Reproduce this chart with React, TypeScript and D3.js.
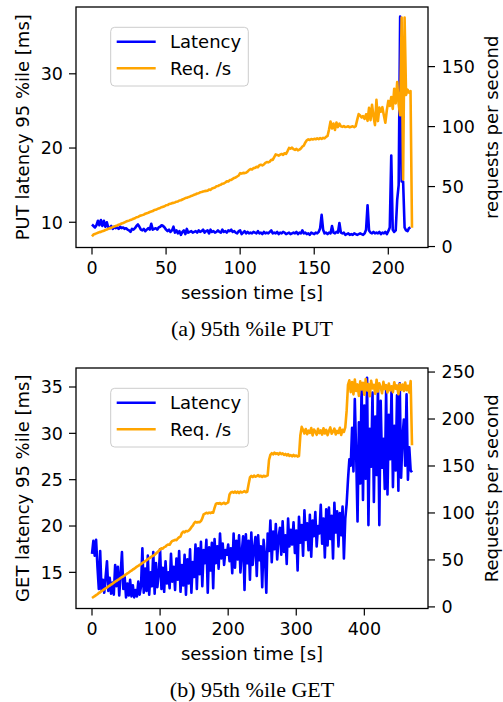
import React from 'react'
import * as d3 from 'd3'

// PUT run, one sample per second
const PUT_STEP = 1
const putLatency = [
  9.7, 9.5, 9.3, 9.6, 10.2, 9.6, 10.3, 9.5, 10.2, 9.4,
  10.0, 9.3, 9.2, 9.5, 9.1, 9.4, 9.2, 9.3, 9.1, 9.4,
  9.2, 9.3, 9.1, 9.2, 9.0, 8.9, 8.7, 9.1, 9.0, 9.2,
  9.5, 9.7, 9.4, 9.0, 8.9, 9.1, 8.8, 9.0, 9.2, 9.0,
  9.8, 9.0, 9.1, 9.2, 9.0, 9.3, 9.4, 9.6, 9.5, 9.3,
  9.0, 8.8, 9.0, 8.7, 8.9, 9.4, 8.6, 8.9, 8.5, 8.8,
  8.3, 8.7, 8.9, 8.4, 9.1, 8.6, 8.7, 8.8, 8.6, 8.7,
  8.8, 8.6, 8.9, 8.7, 8.8, 9.0, 8.6, 8.8, 8.9, 8.5,
  9.0, 8.7, 8.8, 8.6, 8.7, 8.9, 8.7, 8.6, 9.0, 8.7,
  8.8, 8.6, 8.9, 8.8, 9.0, 8.7, 8.8, 8.6, 8.5, 8.8,
  8.9, 8.4, 8.6, 8.8, 8.5, 8.7, 8.5, 8.6, 8.5, 8.7,
  8.6, 8.5, 8.8, 8.5, 8.6, 8.4, 8.7, 8.5, 8.6, 8.5,
  8.7, 8.9, 8.5, 8.6, 8.5, 8.7, 8.4, 8.6, 8.5, 8.7,
  8.6, 8.4, 8.5, 8.6, 8.4, 8.5, 8.6, 8.5, 8.7, 8.4,
  8.6, 8.5, 8.9, 8.5, 8.6, 8.4, 8.5, 8.3, 8.6, 8.5,
  8.4, 8.6, 8.5, 8.7, 9.2, 11.0, 9.0, 8.5, 8.6, 8.4,
  8.6, 8.5, 9.5, 8.6, 8.5, 8.7, 8.6, 9.9, 8.6, 8.5,
  8.6, 8.3, 8.4, 8.5, 8.3, 8.4, 8.3, 8.5, 8.4, 8.3,
  8.4, 8.5, 8.4, 8.3, 8.5, 9.0, 12.3, 8.9, 8.6, 8.5,
  8.7, 8.5, 8.6, 8.5, 8.7, 8.4, 8.6, 8.5, 8.7, 8.4,
  8.8, 9.3, 19.0, 9.0, 8.7, 8.9, 13.0, 15.0, 37.7, 15.5,
  15.5, 9.3, 8.9, 8.8, 9.2, 9.3,
]
const putRequests = [
  8.5, 10, 10.5, 11, 11.5, 12, 12.2, 12.8, 13.2, 13.8,
  14.2, 14.8, 15.2, 15.6, 16.2, 16.6, 17.2, 17.6, 18.2, 18.6,
  19.2, 19.6, 20.2, 20.8, 21.2, 21.6, 22.2, 22.6, 23.2, 23.6,
  24.4, 24.6, 25.4, 25.8, 26.2, 26.6, 27.4, 27.8, 28.2, 28.8,
  29.2, 29.6, 30.4, 30.6, 31.2, 31.8, 32.2, 32.8, 33.2, 33.6,
  34.4, 34.6, 35.4, 35.6, 36.2, 36.4, 36.8, 37.4, 37.6, 38.4,
  38.6, 39.2, 39.8, 40.4, 40.6, 41.2, 41.6, 42.2, 42.6, 43.2,
  43.6, 44.2, 44.4, 45.2, 45.4, 45.8, 46.2, 46.4, 46.6, 47.6,
  47.2, 48.4, 48.8, 49.2, 50.2, 50.4, 51.2, 51.6, 52.4, 52.6,
  53.4, 54.4, 54.2, 55.4, 55.6, 56.4, 57.2, 57.6, 58.4, 59.2,
  61.2, 60.8, 61.4, 61.2, 61.6, 62.4, 63.8, 64.6, 64.2, 65.4,
  65.6, 66.4, 66.2, 67.8, 68.2, 67.6, 68.4, 69.8, 70.4, 70.2,
  70.8, 72.4, 72.2, 74.6, 76.8, 76.4, 75.8, 76.6, 77.2, 76.4,
  77.8, 77.2, 79.6, 82.2, 81.6, 82.4, 81.2, 80.6, 81.4, 80.2,
  80.8, 81.8, 83.4, 84.2, 86.8, 88.6, 89.4, 88.8, 89.6, 89.2,
  89.8, 89.4, 90.2, 89.6, 90.4, 89.8, 90.6, 90.2, 91.4, 92.2,
  97.6, 104.2, 98.4, 102.6, 97.2, 103.4, 99.6, 102.4, 100.2, 99.8,
  100.4, 99.6, 99.8, 100.2, 99.4, 99.8, 100.2, 99.6, 100.4, 105.6,
  110.4, 109.2, 107.6, 108.8, 106.4, 110.2, 104.8, 115.6, 105.4, 118.2,
  108.6, 101.2, 122.4, 104.6, 115.8, 112.4, 116.2, 109.4, 103.2, 113.6,
  121.4, 117.2, 124.6, 114.8, 131.6, 119.4, 137.2, 118.6, 109.4, 191.0,
  56.0, 191.0, 126.4, 130.8, 128.2, 129.6, 15.6,
]

// GET run, one sample every two seconds
const GET_STEP = 2
const getLatency = [
  17.0, 18.4, 16.8, 18.5, 15.6, 13.2, 17.3, 13.0, 14.2, 12.8,
  14.5, 16.2, 13.0, 14.4, 12.7, 13.9, 12.6, 15.8, 13.5, 15.6,
  12.5, 14.8, 17.2, 13.2, 14.5, 12.3, 13.8, 12.5, 14.2, 12.4,
  13.6, 12.3, 13.1, 12.4, 14.0, 12.6, 13.5, 17.6, 12.8, 15.4,
  13.0, 16.8, 12.6, 15.0, 13.5, 17.2, 12.7, 16.0, 13.4, 14.8,
  17.5, 13.2, 15.5, 12.9, 16.2, 13.8, 15.0, 13.3, 17.0, 14.0,
  15.6, 13.1, 16.5, 14.2, 17.3, 12.9, 15.8, 13.6, 16.9, 12.6,
  16.4, 13.8, 17.5, 12.8, 16.1, 14.5, 18.0, 13.2, 17.6, 14.8,
  18.3, 13.5, 17.4, 16.0, 18.5, 12.8, 17.7, 15.2, 18.2, 13.3,
  18.6, 16.0, 17.8, 15.4, 19.2, 16.5, 18.1, 15.8, 17.4, 16.9,
  18.0, 16.2, 17.6, 14.9, 19.2, 15.5, 18.4, 16.4, 19.0, 15.0,
  17.2, 18.9, 13.1, 19.1, 16.0, 18.4, 14.2, 19.3, 15.8, 17.5,
  18.8, 14.6, 19.0, 16.3, 17.8, 13.4, 18.5, 16.9, 12.8, 19.2,
  17.3, 20.6, 16.1, 19.4, 17.5, 20.2, 16.4, 18.8, 19.8, 16.9,
  20.5, 17.2, 19.0, 15.9, 20.8, 17.8, 19.6, 18.0, 20.4, 17.1,
  19.5, 15.2, 21.0, 18.2, 20.1, 16.8, 21.7, 18.5, 20.3, 17.4,
  21.2, 16.7, 20.6, 18.9, 21.5, 17.8, 20.0, 19.2, 22.3, 18.1,
  20.8, 16.6, 21.8, 17.9, 22.0, 18.6, 21.1, 16.5, 22.5, 19.3,
  21.6, 17.8, 21.4, 19.0, 22.1, 16.5, 20.8, 22.4, 25.0, 27.2,
  26.5, 30.6, 25.9, 33.7, 27.8, 20.5, 31.2, 24.6, 35.4, 22.8,
  33.0, 25.1, 36.0, 20.1, 30.5, 26.4, 34.4, 22.6, 31.8, 25.5,
  35.2, 20.1, 33.5, 26.3, 29.4, 24.0, 34.6, 23.4, 32.0, 27.2,
  35.0, 24.2, 30.8, 26.0, 34.1, 23.8, 35.4, 25.2, 29.5, 31.5,
  26.5, 34.2, 25.0, 28.5, 26.0, 25.8,
]
const getRequests = [
  9.5, 10.5, 11.5, 12.5, 13.5, 14.8, 15.6, 16.8, 17.6, 18.8,
  19.8, 20.6, 21.8, 22.6, 23.8, 24.6, 25.8, 26.8, 27.6, 28.8,
  29.6, 30.8, 31.8, 32.6, 33.8, 34.6, 35.8, 36.6, 37.8, 38.6,
  39.8, 40.6, 41.8, 42.8, 43.6, 44.8, 45.6, 46.8, 47.6, 48.8,
  49.6, 50.8, 51.8, 52.6, 53.8, 54.6, 55.4, 56.8, 58.2, 59.4,
  61.2, 62.4, 62.0, 63.6, 64.2, 65.8, 66.4, 66.2, 68.6, 70.2,
  70.6, 71.4, 71.0, 72.8, 74.2, 74.8, 78.6, 80.2, 79.4, 80.8,
  80.4, 81.2, 82.6, 84.8, 86.4, 89.2, 90.6, 89.8, 90.4, 90.2,
  91.4, 94.2, 98.6, 99.4, 100.2, 99.6, 100.4, 99.8, 100.6, 100.2,
  105.4, 109.6, 110.4, 109.8, 110.6, 109.4, 110.2, 110.8, 109.6, 110.4,
  111.2, 119.6, 121.8, 122.4, 121.6, 122.8, 121.4, 122.6, 121.2, 122.8,
  121.8, 122.4, 123.2, 122.0, 122.6, 130.6, 137.8, 139.4, 138.2, 139.8,
  138.6, 139.2, 140.2, 138.8, 139.6, 138.4, 139.6, 138.8, 139.4, 140.0,
  156.4, 161.8, 163.6, 162.4, 164.2, 162.8, 163.6, 162.2, 164.0, 162.6,
  163.4, 161.8, 162.8, 161.2, 162.6, 160.8, 161.6, 160.2, 161.8, 160.4,
  161.2, 160.0, 160.6, 182.4, 191.6, 188.2, 184.6, 189.4, 183.8, 187.6,
  185.2, 190.4, 182.6, 188.8, 186.4, 183.2, 189.6, 185.0, 187.8, 183.4,
  190.2, 184.6, 188.4, 182.8, 187.2, 191.0, 184.4, 186.6, 189.8, 183.6,
  187.4, 185.2, 190.6, 183.0, 188.6, 186.2, 191.2, 208.6, 236.4, 241.2,
  228.6, 239.4, 226.2, 242.0, 229.8, 236.8, 224.6, 240.2, 231.4, 238.6,
  225.8, 242.6, 230.4, 237.2, 224.2, 240.8, 232.6, 236.4, 226.8, 241.8,
  229.2, 238.0, 233.6, 227.4, 239.6, 231.8, 236.0, 228.2, 237.8, 230.4,
  234.8, 228.6, 239.2, 232.2, 235.8, 226.4, 237.2, 231.0, 236.6, 229.8,
  238.8, 230.6, 235.4, 228.2, 240.4, 172.0,
]

const putTimeTicks = [0, 50, 100, 150, 200]
const getTimeTicks = [0, 100, 200, 300, 400]
const putLatencyTicks = [10, 20, 30]
const getLatencyTicks = [15, 20, 25, 30, 35]
const putRequestTicks = [0, 50, 100, 150]
const getRequestTicks = [0, 50, 100, 150, 200, 250]

const FONT = 'DejaVu Sans, sans-serif'
const LEFT = 76
const RIGHT = 428
const PLOT_H = 240.5
const TICK = 7
const LW = 2.6
const BLUE = '#0000ff'
const ORANGE = '#ffa500'

interface PanelProps {
  top: number
  latency: number[]
  requests: number[]
  step: number
  leftDomain: [number, number]
  rightDomain: [number, number]
  timeTicks: number[]
  latencyTicks: number[]
  requestTicks: number[]
  leftLabel: string
  rightLabel: string
  caption: string
}

function Panel({ top, latency, requests, step, leftDomain, rightDomain, timeTicks, latencyTicks, requestTicks, leftLabel, rightLabel, caption }: PanelProps) {
  const bottom = top + PLOT_H
  const tMax = (Math.max(latency.length, requests.length) - 1) * step
  const x = d3.scaleLinear().domain([-0.05 * tMax, 1.05 * tMax]).range([LEFT, RIGHT])
  const yL = d3.scaleLinear().domain(leftDomain).range([bottom, top])
  const yR = d3.scaleLinear().domain(rightDomain).range([bottom, top])

  const latLine = d3.line<number>().x((_, i) => x(i * step)).y(d => yL(d))
  const reqLine = d3.line<number>().x((_, i) => x(i * step)).y(d => yR(d))
  const clipId = `clip-${top}`
  const midY = (top + bottom) / 2

  return (
    <g>
      <defs>
        <clipPath id={clipId}>
          <rect x={LEFT} y={top} width={RIGHT - LEFT} height={PLOT_H} />
        </clipPath>
      </defs>

      <g clipPath={`url(#${clipId})`}>
        <path d={latLine(latency) ?? ''} fill="none" stroke={BLUE} strokeWidth={LW} strokeLinejoin="round" />
      </g>

      {/* legend lives on the left axes, so it sits under the right-axis line */}
      <g>
        <rect x={110.7} y={top + 20.3} width={137.6} height={58.7} rx={4} fill="#fff" fillOpacity={0.8} stroke="#cccccc" strokeWidth={1} />
        <line x1={116.7} x2={155.7} y1={top + 34.7} y2={top + 34.7} stroke={BLUE} strokeWidth={LW} />
        <line x1={116.7} x2={155.7} y1={top + 61.3} y2={top + 61.3} stroke={ORANGE} strokeWidth={LW} />
        <text x={170} y={top + 34.7} dy="0.36em" fontFamily={FONT} fontSize={18}>Latency</text>
        <text x={170} y={top + 61.3} dy="0.36em" fontFamily={FONT} fontSize={18}>Req. /s</text>
      </g>

      <g clipPath={`url(#${clipId})`}>
        <path d={reqLine(requests) ?? ''} fill="none" stroke={ORANGE} strokeWidth={LW} strokeLinejoin="round" />
      </g>

      <rect x={LEFT} y={top} width={RIGHT - LEFT} height={PLOT_H} fill="none" stroke="#000" strokeWidth={1.3} />

      {timeTicks.map(t => (
        <g key={`x${t}`}>
          <line x1={x(t)} x2={x(t)} y1={bottom} y2={bottom + TICK} stroke="#000" strokeWidth={1.2} />
          <text x={x(t)} y={bottom + 26} textAnchor="middle" fontFamily={FONT} fontSize={17.5}>{t}</text>
        </g>
      ))}
      {latencyTicks.map(v => (
        <g key={`l${v}`}>
          <line x1={LEFT - TICK} x2={LEFT} y1={yL(v)} y2={yL(v)} stroke="#000" strokeWidth={1.2} />
          <text x={LEFT - TICK - 6} y={yL(v)} dy="0.36em" textAnchor="end" fontFamily={FONT} fontSize={17.5}>{v}</text>
        </g>
      ))}
      {requestTicks.map(v => (
        <g key={`r${v}`}>
          <line x1={RIGHT} x2={RIGHT + TICK} y1={yR(v)} y2={yR(v)} stroke="#000" strokeWidth={1.2} />
          <text x={RIGHT + TICK + 6.5} y={yR(v)} dy="0.36em" fontFamily={FONT} fontSize={17.5}>{v}</text>
        </g>
      ))}

      <text x={(LEFT + RIGHT) / 2} y={bottom + 51} textAnchor="middle" fontFamily={FONT} fontSize={18}>session time [s]</text>
      <text transform={`translate(22.7,${midY}) rotate(-90)`} dy="0.36em" textAnchor="middle" fontFamily={FONT} fontSize={18}>{leftLabel}</text>
      <text transform={`translate(491.7,${midY}) rotate(-90)`} dy="0.36em" textAnchor="middle" fontFamily={FONT} fontSize={18}>{rightLabel}</text>
      <text x={(LEFT + RIGHT) / 2} y={bottom + 88} textAnchor="middle" fontFamily="Liberation Serif, Times New Roman, serif" fontSize={22}>{caption}</text>
    </g>
  )
}

export default function App() {
  return (
    <svg width={503} height={702} style={{ position: 'absolute', left: 0, top: 0, background: '#fff' }}>
      <Panel
        top={7}
        latency={putLatency}
        requests={putRequests}
        step={PUT_STEP}
        leftDomain={[6.6, 39.0]}
        rightDomain={[-0.8, 199.7]}
        timeTicks={putTimeTicks}
        latencyTicks={putLatencyTicks}
        requestTicks={putRequestTicks}
        leftLabel="PUT latency 95 %ile [ms]"
        rightLabel="requests per second"
        caption="(a) 95th %ile PUT"
      />
      <Panel
        top={368}
        latency={getLatency}
        requests={getRequests}
        step={GET_STEP}
        leftDomain={[11.1, 37.05]}
        rightDomain={[-1.7, 254.3]}
        timeTicks={getTimeTicks}
        latencyTicks={getLatencyTicks}
        requestTicks={getRequestTicks}
        leftLabel="GET latency 95 %ile [ms]"
        rightLabel="Requests per second"
        caption="(b) 95th %ile GET"
      />
    </svg>
  )
}
